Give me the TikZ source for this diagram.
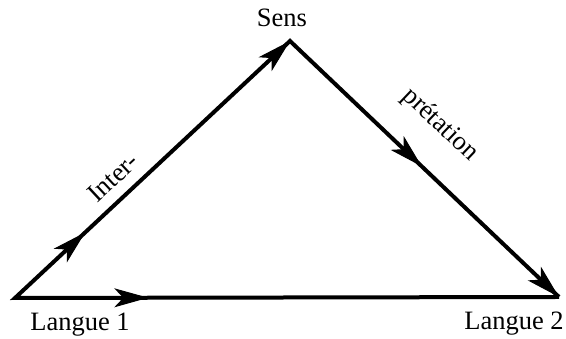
\documentclass[tikz,border=0pt]{standalone}
\usepackage{fontspec}
\setmainfont{Liberation Serif}
\usetikzlibrary{arrows.meta,decorations.markings}
\tikzset{
  edge/.style={line width=4pt, line join=miter},
  lbl/.style={font=\fontsize{26.5}{30}\selectfont, inner sep=0pt},
  mid/.style={postaction={decorate,decoration={markings,mark=at position #1 with {\arrow[line width=1pt]{Stealth[length=34pt,width=19pt,inset=9pt]}}}}}
}
\begin{document}
\begin{tikzpicture}[x=1pt,y=1pt]
\useasboundingbox (0,0) rectangle (566,339);
\coordinate (A) at (15,41);
\coordinate (B) at (290,298);
\coordinate (C) at (559,42);
\draw[edge] (C) -- (A) -- (B) -- (C);
\path[mid=0.255] (A) -- (B);
\path[mid=1] (A) -- (B);
\path[mid=0.49] (B) -- (C);
\path[mid=1] (B) -- (C);
\path[mid=0.245] (A) -- (C);
\node[lbl] (sens) at (282,321) {Sens};
\node[lbl, anchor=base] (l1) at (80,8) {Langue 1};
\node[lbl, anchor=base] (l2) at (514,9) {Langue 2};
\node[lbl, rotate=43] (inter) at (113,162) {Inter-};
\node[lbl, rotate=-43.6] (pret) at (440,214) {prétation};
\end{tikzpicture}
\end{document}
